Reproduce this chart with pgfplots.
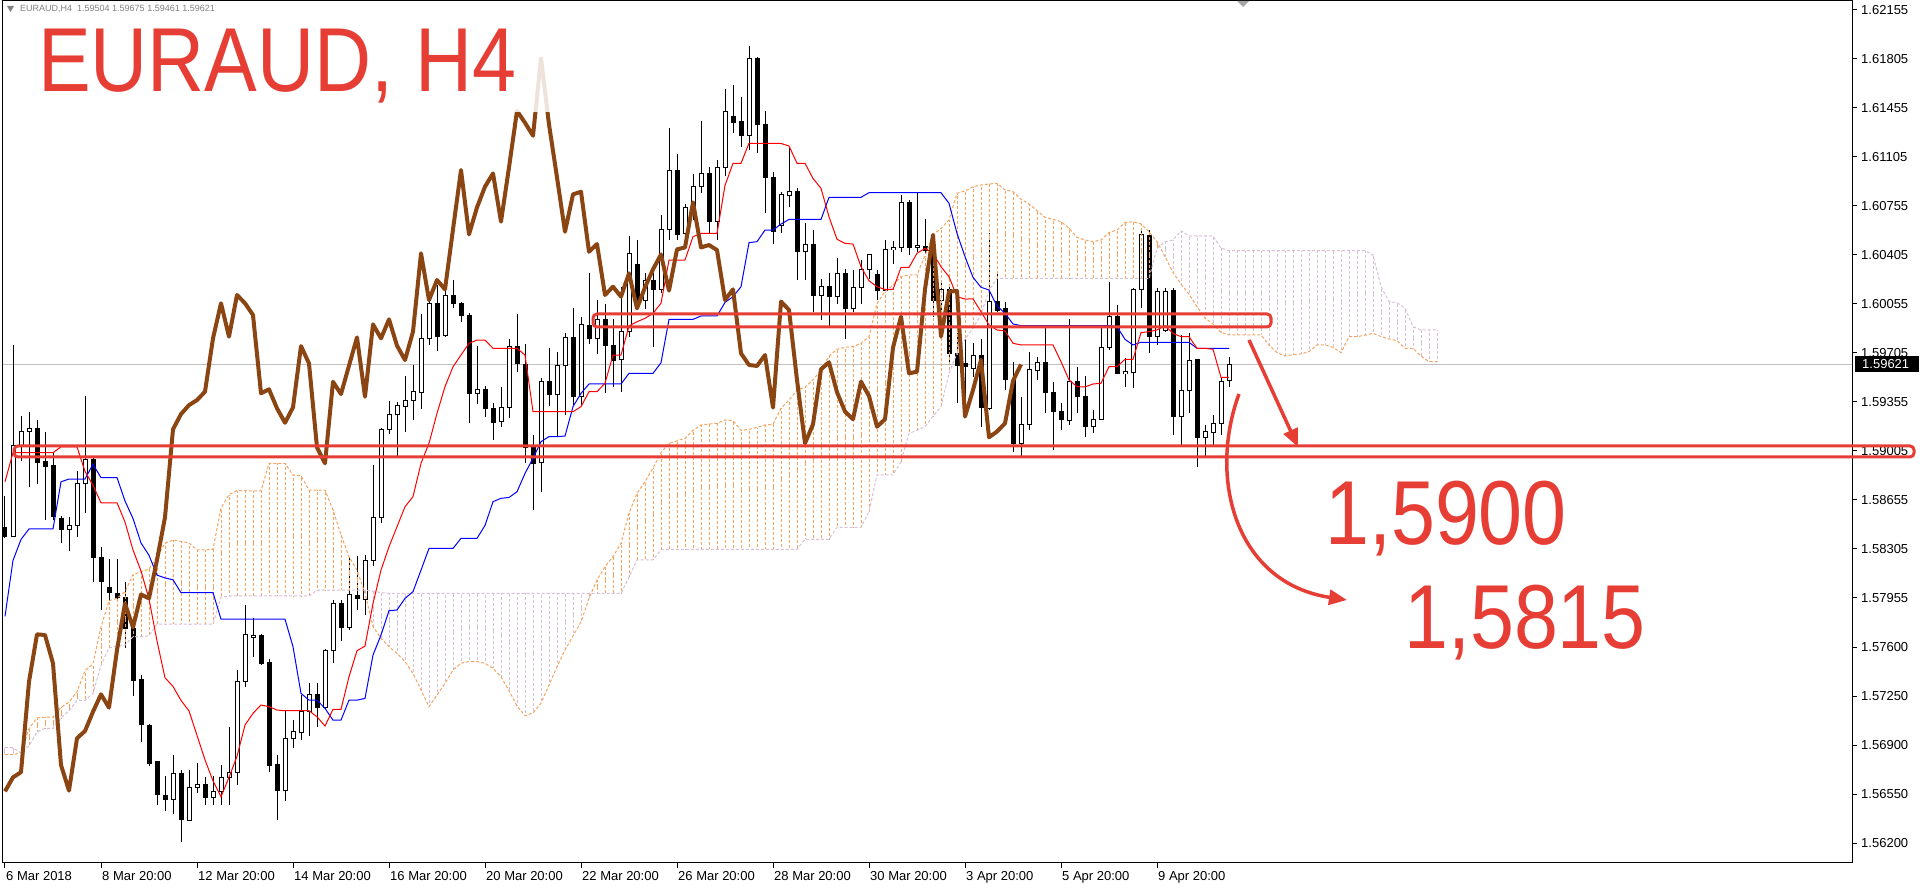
\documentclass[border=0pt]{standalone}
\usepackage{pgfplots}
\pgfplotsset{compat=1.18}
\usepackage{pgfplotstable}
\usepackage{graphicx}
\usepackage{fontspec}
\setmainfont{Liberation Sans}
\usetikzlibrary{arrows.meta}

\definecolor{spanA}{RGB}{244,164,96}
\definecolor{spanB}{RGB}{216,191,216}
\definecolor{chikou}{RGB}{139,69,19}
\definecolor{annot}{RGB}{230,62,52}
\definecolor{bidline}{RGB}{192,192,192}

% H4 candles, bar index i
\pgfplotstableread{
i O H L C
0 1.58459 1.58683 1.58383 1.58390
1 1.58395 1.59757 1.58390 1.59045
2 1.59045 1.59250 1.58932 1.59140
3 1.59140 1.59282 1.58745 1.59165
4 1.59165 1.59225 1.58770 1.58920
5 1.58930 1.59140 1.58507 1.58895
6 1.58900 1.58990 1.58507 1.58537
7 1.58520 1.58537 1.58345 1.58445
8 1.58445 1.58532 1.58287 1.58470
9 1.58470 1.58857 1.58387 1.58770
10 1.58770 1.59395 1.58557 1.58945
11 1.58945 1.58957 1.58070 1.58240
12 1.58240 1.58315 1.57865 1.58070
13 1.58027 1.58232 1.57932 1.57990
14 1.57985 1.58232 1.57932 1.57960
15 1.57957 1.58070 1.57595 1.57732
16 1.57732 1.57745 1.57250 1.57365
17 1.57370 1.57400 1.56925 1.57045
18 1.57045 1.57050 1.56750 1.56770
19 1.56782 1.56782 1.56470 1.56545
20 1.56540 1.56682 1.56432 1.56510
21 1.56510 1.56832 1.56407 1.56695
22 1.56695 1.56725 1.56207 1.56370
23 1.56365 1.56720 1.56357 1.56600
24 1.56600 1.56770 1.56557 1.56620
25 1.56620 1.56670 1.56475 1.56525
26 1.56525 1.56682 1.56475 1.56570
27 1.56570 1.56757 1.56470 1.56670
28 1.56670 1.57032 1.56470 1.56707
29 1.56707 1.57435 1.56615 1.57353
30 1.57353 1.57906 1.57318 1.57692
31 1.57668 1.57811 1.57532 1.57687
32 1.57687 1.57699 1.57473 1.57485
33 1.57489 1.57520 1.56710 1.56758
34 1.56763 1.56829 1.56365 1.56575
35 1.56575 1.57156 1.56503 1.56949
36 1.56949 1.57080 1.56884 1.57001
37 1.56989 1.57258 1.56937 1.57139
38 1.57139 1.57346 1.56965 1.57263
39 1.57263 1.57346 1.57032 1.57168
40 1.57168 1.57592 1.57163 1.57580
41 1.57580 1.57937 1.57489 1.57913
42 1.57913 1.57937 1.57644 1.57742
43 1.57742 1.58235 1.57727 1.57977
44 1.57973 1.58251 1.57866 1.57949
45 1.57942 1.58259 1.57830 1.58223
46 1.58223 1.58902 1.58180 1.58528
47 1.58528 1.59164 1.58490 1.59157
48 1.59157 1.59359 1.59123 1.59266
49 1.59266 1.59354 1.58966 1.59330
50 1.59323 1.59538 1.59140 1.59366
51 1.59361 1.59616 1.59228 1.59426
52 1.59419 1.59986 1.59307 1.59807
53 1.59807 1.60105 1.59760 1.60058
54 1.60058 1.60189 1.59719 1.59819
55 1.59831 1.60177 1.59815 1.60117
56 1.60117 1.60224 1.60022 1.60058
57 1.60058 1.60070 1.59927 1.59974
58 1.59974 1.59991 1.59200 1.59414
59 1.59414 1.59753 1.59338 1.59443
60 1.59443 1.59467 1.59248 1.59307
61 1.59307 1.59343 1.59081 1.59204
62 1.59212 1.59462 1.59176 1.59314
63 1.59314 1.59800 1.59235 1.59752
64 1.59752 1.59986 1.59569 1.59628
65 1.59624 1.59767 1.58914 1.59028
66 1.59028 1.59116 1.58580 1.58914
67 1.58919 1.59521 1.58711 1.59497
68 1.59497 1.59736 1.59324 1.59409
69 1.59409 1.59712 1.59104 1.59612
70 1.59612 1.59848 1.59259 1.59814
71 1.59814 1.60022 1.59331 1.59390
72 1.59390 1.59957 1.59324 1.59907
73 1.59903 1.60272 1.59767 1.59807
74 1.59807 1.60081 1.59695 1.59943
75 1.59943 1.60057 1.59419 1.59755
76 1.59760 1.59943 1.59462 1.59652
77 1.59657 1.60176 1.59426 1.59855
78 1.59855 1.60538 1.59819 1.60415
79 1.60338 1.60510 1.60015 1.60081
80 1.60081 1.60272 1.60015 1.60224
81 1.60224 1.60272 1.59743 1.60157
82 1.60157 1.60689 1.60129 1.60586
83 1.60586 1.61308 1.60510 1.61010
84 1.61010 1.61124 1.60514 1.60550
85 1.60557 1.60767 1.60533 1.60743
86 1.60743 1.60986 1.60653 1.60891
87 1.60891 1.61360 1.60843 1.60986
88 1.60986 1.61034 1.60562 1.60641
89 1.60641 1.61081 1.60510 1.61029
90 1.61029 1.61586 1.60967 1.61432
91 1.61396 1.61617 1.61272 1.61348
92 1.61355 1.61534 1.61177 1.61255
93 1.61255 1.61896 1.61153 1.61808
94 1.61808 1.61820 1.61134 1.61336
95 1.61336 1.61432 1.60700 1.60958
96 1.60958 1.60998 1.60486 1.60569
97 1.60617 1.60855 1.60557 1.60836
98 1.60827 1.61165 1.60748 1.60855
99 1.60855 1.60879 1.60224 1.60426
100 1.60426 1.60629 1.60224 1.60481
101 1.60481 1.60586 1.59998 1.60117
102 1.60117 1.60229 1.59938 1.60176
103 1.60176 1.60272 1.59891 1.60105
104 1.60105 1.60386 1.60057 1.60272
105 1.60272 1.60300 1.59800 1.60021
106 1.60021 1.60295 1.59998 1.60172
107 1.60172 1.60367 1.60057 1.60300
108 1.60300 1.60415 1.60236 1.60407
109 1.60264 1.60295 1.60081 1.60148
110 1.60152 1.60515 1.60148 1.60443
111 1.60443 1.60505 1.60343 1.60457
112 1.60457 1.60831 1.60426 1.60779
113 1.60779 1.60796 1.60403 1.60457
114 1.60457 1.60843 1.60426 1.60474
115 1.60467 1.60657 1.60414 1.60438
116 1.60414 1.60557 1.59962 1.60081
117 1.60081 1.60224 1.59914 1.60157
118 1.60157 1.60188 1.59640 1.59700
119 1.59700 1.59843 1.59343 1.59617
120 1.59630 1.59800 1.59345 1.59610
121 1.59593 1.59772 1.59534 1.59688
122 1.59688 1.59800 1.59176 1.59312
123 1.59307 1.60558 1.59295 1.60070
124 1.60070 1.60291 1.59998 1.60010
125 1.60022 1.60070 1.59438 1.59510
126 1.59510 1.59641 1.58998 1.59057
127 1.59057 1.59391 1.58967 1.59193
128 1.59193 1.59712 1.59153 1.59586
129 1.59581 1.59672 1.59510 1.59636
130 1.59636 1.59898 1.59272 1.59422
131 1.59422 1.59498 1.59010 1.59284
132 1.59288 1.59343 1.59153 1.59229
133 1.59224 1.59950 1.59193 1.59498
134 1.59498 1.59600 1.59272 1.59395
135 1.59391 1.59541 1.59105 1.59176
136 1.59176 1.59300 1.59129 1.59229
137 1.59229 1.59891 1.59224 1.59741
138 1.59741 1.60212 1.59724 1.59962
139 1.59962 1.60050 1.59553 1.59557
140 1.59557 1.59665 1.59457 1.59569
141 1.59562 1.60165 1.59450 1.60158
142 1.60158 1.60586 1.60022 1.60546
143 1.60546 1.60582 1.59705 1.59820
144 1.59820 1.60165 1.59760 1.60141
145 1.59867 1.60165 1.59850 1.60146
146 1.60146 1.60165 1.59117 1.59248
147 1.59248 1.59831 1.59046 1.59438
148 1.59438 1.59843 1.59277 1.59653
149 1.59653 1.59660 1.58890 1.59100
150 1.59100 1.59188 1.58967 1.59141
151 1.59136 1.59260 1.59046 1.59200
152 1.59200 1.59529 1.59117 1.59503
153 1.59504 1.59675 1.59461 1.59621
}\candles

% Tenkan-sen (T) and Kijun-sen (K)
\pgfplotstableread{
i T K
0 1.58782 1.57820
1 1.58990 1.58220
2 1.58990 1.58370
3 1.58990 1.58445
4 1.58990 1.58445
5 1.58990 1.58445
6 1.58990 1.58445
7 1.59032 1.58782
8 1.59032 1.58802
9 1.59032 1.58802
10 1.58857 1.58802
11 1.58757 1.58907
12 1.58632 1.58812
13 1.58632 1.58812
14 1.58632 1.58812
15 1.58495 1.58645
16 1.58295 1.58520
17 1.58145 1.58345
18 1.57945 1.58257
19 1.57645 1.58115
20 1.57382 1.58095
21 1.57320 1.58082
22 1.57220 1.57990
23 1.57145 1.57990
24 1.56970 1.57990
25 1.56795 1.57990
26 1.56645 1.57990
27 1.56532 1.57800
28 1.56670 1.57800
29 1.56820 1.57800
30 1.57044 1.57800
31 1.57127 1.57800
32 1.57187 1.57800
33 1.57175 1.57800
34 1.57151 1.57800
35 1.57146 1.57800
36 1.57146 1.57604
37 1.57146 1.57270
38 1.57146 1.57222
39 1.57103 1.57222
40 1.57037 1.57163
41 1.57156 1.57079
42 1.57156 1.57079
43 1.57389 1.57222
44 1.57575 1.57222
45 1.57608 1.57234
46 1.57913 1.57544
47 1.58151 1.57687
48 1.58318 1.57861
49 1.58461 1.57866
50 1.58604 1.57949
51 1.58676 1.57997
52 1.58914 1.58151
53 1.59057 1.58306
54 1.59271 1.58306
55 1.59462 1.58306
56 1.59604 1.58306
57 1.59688 1.58378
58 1.59771 1.58378
59 1.59795 1.58378
60 1.59795 1.58470
61 1.59736 1.58640
62 1.59736 1.58664
63 1.59736 1.58670
64 1.59736 1.58711
65 1.59688 1.58842
66 1.59283 1.58950
67 1.59283 1.59069
68 1.59283 1.59105
69 1.59283 1.59105
70 1.59283 1.59109
71 1.59283 1.59319
72 1.59319 1.59414
73 1.59426 1.59481
74 1.59426 1.59481
75 1.59486 1.59481
76 1.59688 1.59481
77 1.59688 1.59481
78 1.59895 1.59557
79 1.59926 1.59557
80 1.59950 1.59557
81 1.59986 1.59557
82 1.60058 1.59633
83 1.60367 1.59943
84 1.60367 1.59943
85 1.60367 1.59943
86 1.60534 1.59943
87 1.60557 1.59967
88 1.60557 1.59967
89 1.60557 1.59967
90 1.60900 1.60064
91 1.61058 1.60105
92 1.61058 1.60176
93 1.61201 1.60491
94 1.61200 1.60498
95 1.61200 1.60581
96 1.61200 1.60581
97 1.61200 1.60624
98 1.61182 1.60657
99 1.61058 1.60657
100 1.61058 1.60657
101 1.60950 1.60657
102 1.60879 1.60657
103 1.60676 1.60815
104 1.60515 1.60815
105 1.60486 1.60815
106 1.60481 1.60815
107 1.60319 1.60815
108 1.60219 1.60848
109 1.60176 1.60848
110 1.60157 1.60848
111 1.60157 1.60848
112 1.60314 1.60848
113 1.60314 1.60848
114 1.60415 1.60848
115 1.60450 1.60848
116 1.60415 1.60848
117 1.60319 1.60848
118 1.60248 1.60772
119 1.60105 1.60557
120 1.60088 1.60391
121 1.60089 1.60243
122 1.59998 1.60172
123 1.59903 1.60153
124 1.59867 1.60039
125 1.59860 1.59986
126 1.59772 1.59910
127 1.59760 1.59898
128 1.59760 1.59898
129 1.59760 1.59898
130 1.59760 1.59898
131 1.59760 1.59898
132 1.59641 1.59898
133 1.59510 1.59898
134 1.59462 1.59898
135 1.59460 1.59898
136 1.59481 1.59898
137 1.59486 1.59898
138 1.59605 1.59898
139 1.59605 1.59891
140 1.59657 1.59800
141 1.59657 1.59760
142 1.59848 1.59779
143 1.59855 1.59779
144 1.59867 1.59779
145 1.59898 1.59779
146 1.59843 1.59779
147 1.59819 1.59779
148 1.59819 1.59779
149 1.59736 1.59736
150 1.59736 1.59736
151 1.59729 1.59736
152 1.59529 1.59736
153 1.59529 1.59736
}\lines

% Chikou span (close shifted back 26 bars)
\pgfplotstableread{
i V
0 1.56570
1 1.56670
2 1.56707
3 1.57353
4 1.57692
5 1.57687
6 1.57485
7 1.56758
8 1.56575
9 1.56949
10 1.57001
11 1.57139
12 1.57263
13 1.57168
14 1.57580
15 1.57913
16 1.57742
17 1.57977
18 1.57949
19 1.58223
20 1.58528
21 1.59157
22 1.59266
23 1.59330
24 1.59366
25 1.59426
26 1.59807
27 1.60058
28 1.59819
29 1.60117
30 1.60058
31 1.59974
32 1.59414
33 1.59443
34 1.59307
35 1.59204
36 1.59314
37 1.59752
38 1.59628
39 1.59028
40 1.58914
41 1.59497
42 1.59409
43 1.59612
44 1.59814
45 1.59390
46 1.59907
47 1.59807
48 1.59943
49 1.59755
50 1.59652
51 1.59855
52 1.60415
53 1.60081
54 1.60224
55 1.60157
56 1.60586
57 1.61010
58 1.60550
59 1.60743
60 1.60891
61 1.60986
62 1.60641
63 1.61029
64 1.61432
65 1.61348
66 1.61255
67 1.61808
68 1.61336
69 1.60958
70 1.60569
71 1.60836
72 1.60855
73 1.60426
74 1.60481
75 1.60117
76 1.60176
77 1.60105
78 1.60272
79 1.60021
80 1.60172
81 1.60300
82 1.60407
83 1.60148
84 1.60443
85 1.60457
86 1.60779
87 1.60457
88 1.60474
89 1.60438
90 1.60081
91 1.60157
92 1.59700
93 1.59617
94 1.59610
95 1.59688
96 1.59312
97 1.60070
98 1.60010
99 1.59510
100 1.59057
101 1.59193
102 1.59586
103 1.59636
104 1.59422
105 1.59284
106 1.59229
107 1.59498
108 1.59395
109 1.59176
110 1.59229
111 1.59741
112 1.59962
113 1.59557
114 1.59569
115 1.60158
116 1.60546
117 1.59820
118 1.60141
119 1.60146
120 1.59248
121 1.59438
122 1.59653
123 1.59100
124 1.59141
125 1.59200
126 1.59503
127 1.59621
}\chik

% Senkou span A and B (shifted forward 26 bars)
\pgfplotstableread{
i A B
0 1.56832 1.56882
1 1.56832 1.56882
2 1.56845 1.56845
3 1.57020 1.56895
4 1.57095 1.56995
5 1.57100 1.57020
6 1.57100 1.57020
7 1.57170 1.57095
8 1.57207 1.57145
9 1.57282 1.57220
10 1.57432 1.57220
11 1.57482 1.57270
12 1.57745 1.57470
13 1.57932 1.57595
14 1.57950 1.57607
15 1.57995 1.57615
16 1.58120 1.57675
17 1.58140 1.57675
18 1.58157 1.57682
19 1.58245 1.57765
20 1.58345 1.57765
21 1.58365 1.57765
22 1.58357 1.57765
23 1.58345 1.57765
24 1.58295 1.57765
25 1.58295 1.57765
26 1.58300 1.57765
27 1.58595 1.57957
28 1.58690 1.57966
29 1.58720 1.57966
30 1.58718 1.57966
31 1.58718 1.57966
32 1.58718 1.57966
33 1.58914 1.57966
34 1.58914 1.57966
35 1.58914 1.57966
36 1.58830 1.57966
37 1.58825 1.57966
38 1.58723 1.57966
39 1.58723 1.58008
40 1.58723 1.58008
41 1.58580 1.58008
42 1.58402 1.58008
43 1.58247 1.58008
44 1.58151 1.58008
45 1.57985 1.58008
46 1.57747 1.58000
47 1.57663 1.57990
48 1.57604 1.57985
49 1.57556 1.57985
50 1.57497 1.57985
51 1.57413 1.57985
52 1.57294 1.57985
53 1.57175 1.57985
54 1.57258 1.57985
55 1.57342 1.57985
56 1.57437 1.57985
57 1.57485 1.57985
58 1.57497 1.57985
59 1.57497 1.57985
60 1.57485 1.57985
61 1.57449 1.57985
62 1.57389 1.57985
63 1.57290 1.57985
64 1.57180 1.57985
65 1.57110 1.57985
66 1.57130 1.57985
67 1.57200 1.57985
68 1.57330 1.57985
69 1.57460 1.57985
70 1.57580 1.57985
71 1.57680 1.57985
72 1.57780 1.57985
73 1.57950 1.57985
74 1.58080 1.57985
75 1.58176 1.57985
76 1.58248 1.57985
77 1.58343 1.57985
78 1.58557 1.58100
79 1.58700 1.58224
80 1.58783 1.58224
81 1.58880 1.58224
82 1.58990 1.58295
83 1.59057 1.58300
84 1.59075 1.58300
85 1.59093 1.58300
86 1.59150 1.58300
87 1.59188 1.58300
88 1.59195 1.58300
89 1.59200 1.58300
90 1.59224 1.58300
91 1.59219 1.58300
92 1.59148 1.58300
93 1.59157 1.58300
94 1.59171 1.58300
95 1.59188 1.58300
96 1.59193 1.58300
97 1.59307 1.58300
98 1.59367 1.58300
99 1.59438 1.58300
100 1.59457 1.58371
101 1.59510 1.58371
102 1.59581 1.58371
103 1.59680 1.58371
104 1.59729 1.58457
105 1.59743 1.58457
106 1.59748 1.58457
107 1.59772 1.58457
108 1.59819 1.58569
109 1.60057 1.58831
110 1.60141 1.58831
111 1.60188 1.58831
112 1.60248 1.58926
113 1.60260 1.59129
114 1.60260 1.59150
115 1.60400 1.59176
116 1.60546 1.59250
117 1.60593 1.59319
118 1.60653 1.59557
119 1.60844 1.59700
120 1.60860 1.59800
121 1.60891 1.59880
122 1.60903 1.59980
123 1.60910 1.60150
124 1.60915 1.60236
125 1.60868 1.60236
126 1.60856 1.60236
127 1.60801 1.60236
128 1.60768 1.60236
129 1.60720 1.60236
130 1.60672 1.60236
131 1.60658 1.60236
132 1.60641 1.60236
133 1.60594 1.60236
134 1.60529 1.60236
135 1.60510 1.60236
136 1.60498 1.60236
137 1.60510 1.60236
138 1.60563 1.60236
139 1.60582 1.60236
140 1.60634 1.60236
141 1.60641 1.60236
142 1.60625 1.60236
143 1.60570 1.60236
144 1.60498 1.60450
145 1.60391 1.60498
146 1.60278 1.60510
147 1.60195 1.60575
148 1.60123 1.60539
149 1.60034 1.60539
150 1.59952 1.60539
151 1.59910 1.60539
152 1.59849 1.60451
153 1.59832 1.60434
154 1.59832 1.60434
155 1.59832 1.60434
156 1.59832 1.60434
157 1.59832 1.60434
158 1.59760 1.60434
159 1.59705 1.60434
160 1.59681 1.60434
161 1.59690 1.60434
162 1.59696 1.60434
163 1.59712 1.60434
164 1.59760 1.60434
165 1.59760 1.60434
166 1.59743 1.60434
167 1.59705 1.60434
168 1.59819 1.60434
169 1.59819 1.60434
170 1.59830 1.60434
171 1.59843 1.60403
172 1.59820 1.60177
173 1.59803 1.60070
174 1.59790 1.60063
175 1.59736 1.60022
176 1.59736 1.59891
177 1.59680 1.59867
178 1.59641 1.59867
179 1.59641 1.59867
}\cloud

\pgfplotsset{
    errbar/.style={draw=none, mark=none, forget plot,
        error bars/.cd, y dir=both, y explicit, error mark=none,
        error bar style={#1}},
}

\begin{document}
\begin{tikzpicture}[x=1pt,y=1pt]
\begin{axis}[
    name=ax, at={(0,0)}, anchor=south west,
    scale only axis, width=1849pt, height=862pt,
    xmin=-0.25, xmax=230.875, ymin=1.56058, ymax=1.62218,
    axis line style={line width=1pt},
    tick style={black, line width=1pt},
    tick align=outside, major tick length=5pt,
    xtick pos=bottom, ytick pos=right, yticklabel pos=right,
    scaled ticks=false,
    xtick={0,12,...,144},
    xticklabels={6 Mar 2018,8 Mar 20:00,12 Mar 20:00,14 Mar 20:00,16 Mar 20:00,20 Mar 20:00,22 Mar 20:00,26 Mar 20:00,28 Mar 20:00,30 Mar 20:00,3 Apr 20:00,5 Apr 20:00,9 Apr 20:00},
    ytick={1.62155,1.61805,1.61455,1.61105,1.60755,1.60405,1.60055,1.59705,1.59355,1.59005,1.58655,1.58305,1.57955,1.57600,1.57250,1.56900,1.56550,1.56200},
    yticklabels={1.62155,1.61805,1.61455,1.61105,1.60755,1.60405,1.60055,1.59705,1.59355,1.59005,1.58655,1.58305,1.57955,1.57600,1.57250,1.56900,1.56550,1.56200},
    xticklabel style={font=\fontsize{13}{13}\selectfont, anchor=north west, inner sep=0pt, xshift=1pt, yshift=-3pt},
    yticklabel style={font=\fontsize{13}{13}\selectfont, anchor=west, inner sep=0pt, xshift=4pt},
]
% bid line
\addplot[bidline, line width=1pt] coordinates {(-1,1.59621) (232,1.59621)};

% candles: wicks, bodies, white inside of bull bodies
\addplot[errbar={draw=black, line width=1pt, solid}]
    table[x=i, y expr={(\thisrow{H}+\thisrow{L})/2}, y error expr={(\thisrow{H}-\thisrow{L})/2}] {\candles};
\addplot[errbar={draw=black, line width=5pt, solid}]
    table[x=i, y expr={(\thisrow{O}+\thisrow{C})/2}, y error expr={abs(\thisrow{C}-\thisrow{O})/2+0.0000357}] {\candles};
\addplot[errbar={draw=white, line width=3pt, solid}]
    table[x=i, y expr={(\thisrow{O}+\thisrow{C})/2}, y error expr={(\thisrow{C}>\thisrow{O})*max((\thisrow{C}-\thisrow{O})/2-0.0000357,0)}] {\candles};

% cloud hatching
\addplot[errbar={draw=spanA, line width=1pt, dash pattern=on 3pt off 2pt}]
    table[x=i, y expr={(\thisrow{A}+\thisrow{B})/2}, y error expr={(1-(\thisrow{B}>\thisrow{A}))*abs(\thisrow{A}-\thisrow{B})/2}] {\cloud};
\addplot[errbar={draw=spanB, line width=1pt, dash pattern=on 3pt off 2pt}]
    table[x=i, y expr={(\thisrow{A}+\thisrow{B})/2}, y error expr={(\thisrow{B}>\thisrow{A})*abs(\thisrow{A}-\thisrow{B})/2}] {\cloud};
\addplot[spanA, line width=1pt, dash pattern=on 3pt off 2pt] table[x=i, y=A] {\cloud};
\addplot[spanB, line width=1pt, dash pattern=on 3pt off 2pt] table[x=i, y=B] {\cloud};

% kijun, tenkan, chikou
\addplot[blue, line width=1pt] table[x=i, y=K] {\lines};
\addplot[red, line width=1pt] table[x=i, y=T] {\lines};
\addplot[chikou, line width=4pt, line join=round] table[x=i, y=V] {\chik};
\end{axis}

\pgfresetboundingbox
\useasboundingbox (ax.south west) ++(-3,-25) rectangle ++(1920,888);

\begin{scope}[shift={(ax.south west)}, shift={(-3,-25)}]
% veil behind the title
\fill[white, opacity=0.85] (4,776) rectangle (560,886);

% info line and chart markers
\fill[gray] (7,882) -- (14,882) -- (10.5,876) -- cycle;
\node[anchor=west, inner sep=0pt, text=gray, font=\fontsize{9}{9}\selectfont] at (20,879)
    {EURAUD,H4\ \ 1.59504 1.59675 1.59461 1.59621};
\fill[gray!70] (1237,887) -- (1249,887) -- (1243,881) -- cycle;

% current price label
\fill[black] (1855,516) rectangle (1919,532);
\node[anchor=west, inner sep=0pt, text=white, font=\fontsize{13}{13}\selectfont] at (1862,524) {1.59621};

% annotations
\draw[annot, line width=3pt, rounded corners=4pt] (14,431) rectangle (1914,442);
\draw[annot, line width=3pt, rounded corners=4pt] (593,561) rectangle (1271,574);
\draw[annot, line width=3.5pt, -{Triangle[length=18pt, width=15pt]}] (1249,548) -- (1298,441);
\draw[annot, line width=3.5pt, -{Triangle[length=18pt, width=15pt]}] (1239,494) .. controls (1208,410) and (1235,305) .. (1347,288);

\node[anchor=base west, inner sep=0pt, text=annot, font=\fontsize{79}{79}\selectfont] at (38,796) {\scalebox{1}[1.15]{EURAUD, H4}};
\node[anchor=base west, inner sep=0pt, text=annot, font=\fontsize{79}{79}\selectfont] at (1325,343) {\scalebox{1}[1.15]{1,5900}};
\node[anchor=base west, inner sep=0pt, text=annot, font=\fontsize{79}{79}\selectfont] at (1404,239) {\scalebox{1}[1.15]{1,5815}};
\end{scope}
\end{tikzpicture}
\end{document}
